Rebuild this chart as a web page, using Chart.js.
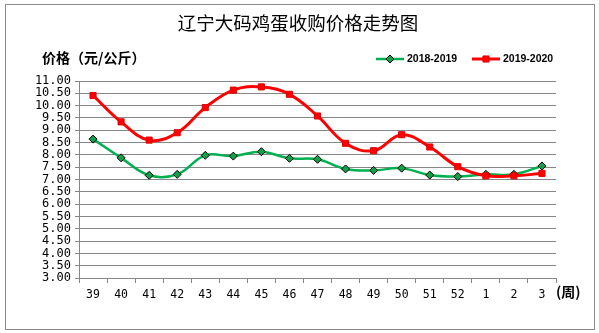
<!DOCTYPE html>
<html>
<head>
<meta charset="utf-8">
<title>辽宁大码鸡蛋收购价格走势图</title>
<script src="https://cdn.jsdelivr.net/npm/chart.js@4.4.1/dist/chart.umd.min.js"></script>
<style>
    html, body { margin: 0; padding: 0; background: #fff; }
    #wrap { width: 599px; height: 333px; }
</style>
</head>
<body>
<div id="wrap"><canvas id="eggChart" width="599" height="333"></canvas></div>
<script>
// ============= Data =============
const weeks = ['39', '40', '41', '42', '43', '44', '45', '46', '47', '48', '49', '50', '51', '52', '1', '2', '3'];
const price1819 = [8.64, 7.88, 7.17, 7.21, 7.98, 7.95, 8.13, 7.86, 7.82, 7.43, 7.37, 7.46, 7.18, 7.12, 7.21, 7.21, 7.55];
const price1920 = [10.41, 9.34, 8.60, 8.90, 9.92, 10.63, 10.76, 10.46, 9.58, 8.47, 8.17, 8.82, 8.32, 7.52, 7.15, 7.15, 7.25];
const yTicks = [3.00, 3.50, 4.00, 4.50, 5.00, 5.50, 6.00, 6.50, 7.00, 7.50, 8.00, 8.50, 9.00, 9.50, 10.00, 10.50, 11.00];
const seriesNames = ['2018-2019', '2019-2020'];

const TITLE = '辽宁大码鸡蛋收购价格走势图';
const Y_TITLE = '价格（元/公斤）';
const X_UNIT = '(周)';

const GRID = '#878787';
const CJK = '"Noto Sans CJK SC", sans-serif';
const MONO = '"DejaVu Sans Mono", monospace';

// small marker drawer for the legend (same shapes as the points)
function drawMarker(ctx, ds, x, y) {
    const r = ds.pointRadius;
    ctx.fillStyle = ds.pointBackgroundColor;
    ctx.strokeStyle = ds.pointBorderColor;
    ctx.lineWidth = ds.pointBorderWidth;
    ctx.beginPath();
    if (ds.pointStyle === 'rectRot') {
        ctx.moveTo(x, y - r);
        ctx.lineTo(x + r, y);
        ctx.lineTo(x, y + r);
        ctx.lineTo(x - r, y);
        ctx.closePath();
    } else {
        const s = r * Math.SQRT1_2;
        ctx.rect(x - s, y - s, s * 2, s * 2);
    }
    ctx.fill();
    ctx.stroke();
}

// frame, title, axis title, legend
const decorPlugin = {
    id: 'decor',
    beforeDraw(chart) {
        const ctx = chart.ctx;
        ctx.save();
        ctx.fillStyle = '#fff';
        ctx.fillRect(0, 0, chart.width, chart.height);
        ctx.strokeStyle = '#8a8a8a';
        ctx.lineWidth = 1;
        ctx.strokeRect(5.5, 4.5, 589, 325);
        ctx.restore();
    },
    afterDraw(chart) {
        const ctx = chart.ctx;
        const area = chart.chartArea;
        ctx.save();
        ctx.fillStyle = '#000';
        ctx.textBaseline = 'middle';

        ctx.font = '18.5px ' + CJK;
        ctx.textAlign = 'center';
        ctx.fillText(TITLE, 298, 23);

        ctx.font = 'bold 14px ' + CJK;
        ctx.textAlign = 'left';
        ctx.fillText(Y_TITLE, 42, 58);

        ctx.font = 'bold 14px ' + CJK;
        ctx.fillText(X_UNIT, area.right, 292);

        // legend
        const legendX = [376, 472];
        chart.data.datasets.forEach((ds, i) => {
            const x = legendX[i];
            ctx.strokeStyle = ds.borderColor;
            ctx.lineWidth = ds.borderWidth;
            ctx.beginPath();
            ctx.moveTo(x, 59);
            ctx.lineTo(x + 28, 59);
            ctx.stroke();
            drawMarker(ctx, ds, x + 14, 59);
            ctx.fillStyle = '#000';
            ctx.font = 'bold 10.5px "Liberation Sans", sans-serif';
            ctx.fillText(ds.label, x + 31, 59);
        });
        ctx.restore();
    }
};

new Chart(document.getElementById('eggChart'), {
    type: 'line',
    data: {
        labels: weeks,
        datasets: [
            {
                label: seriesNames[0],
                data: price1819,
                borderColor: '#00b050',
                borderWidth: 2.5,
                pointStyle: 'rectRot',
                pointRadius: 4,
                pointBackgroundColor: '#14a04a',
                pointBorderColor: '#000',
                pointBorderWidth: 1,
                tension: 0.4,
                order: 2
            },
            {
                label: seriesNames[1],
                data: price1920,
                borderColor: '#ff0000',
                borderWidth: 3,
                pointStyle: 'rect',
                pointRadius: 4.3,
                pointBackgroundColor: '#ff0000',
                pointBorderColor: '#e00000',
                pointBorderWidth: 1,
                tension: 0.4,
                order: 1
            }
        ]
    },
    options: {
        responsive: false,
        animation: false,
        devicePixelRatio: 1,
        layout: { padding: { top: 81, right: 43, bottom: 0, left: 0 } },
        plugins: {
            legend: { display: false },
            title: { display: false },
            tooltip: { enabled: false }
        },
        scales: {
            x: {
                offset: true,
                grid: { offset: true, drawOnChartArea: false, drawTicks: true, tickLength: 5, color: GRID },
                border: { color: GRID },
                ticks: { color: '#000', font: { family: MONO, size: 11.5 }, padding: 5, maxRotation: 0, autoSkip: false },
                afterFit(scale) { scale.height = 55; }
            },
            y: {
                min: 3,
                max: 11,
                afterBuildTicks(scale) { scale.ticks = yTicks.map(v => ({ value: v })); },
                grid: { color: GRID, tickLength: 4 },
                border: { color: GRID },
                ticks: {
                    color: '#000',
                    font: { family: MONO, size: 12 },
                    padding: 4,
                    autoSkip: false,
                    callback: v => Number(v).toFixed(2)
                },
                afterFit(scale) { scale.width = 79; }
            }
        }
    },
    plugins: [decorPlugin]
});
</script>
</body>
</html>
